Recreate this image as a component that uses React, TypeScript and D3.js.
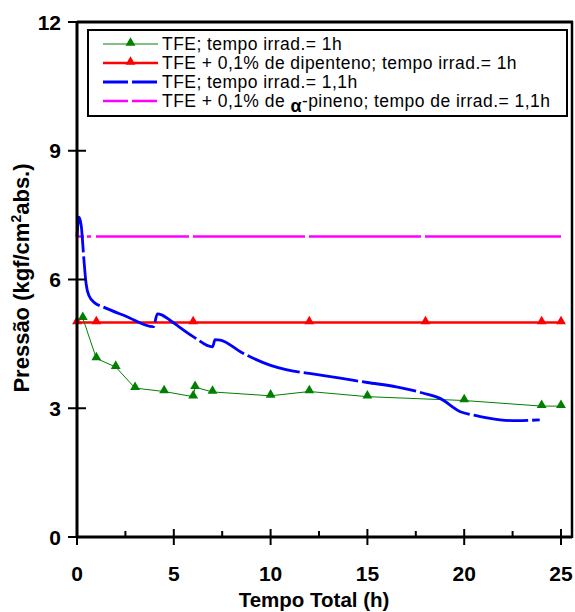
import React from "react";
import * as d3 from "d3";

const xTicks = [0, 5, 10, 15, 20, 25];
const xMinorTicks = [2.5, 7.5, 12.5, 17.5, 22.5];
const yTicks = [0, 3, 6, 9, 12];

const greenX = [0.3, 1, 2, 3, 4.5, 6, 6.1, 7, 10, 12, 15, 20, 24, 25];
const greenY = [5.1, 4.16, 3.96, 3.47, 3.39, 3.27, 3.49, 3.38, 3.29, 3.39, 3.27, 3.18, 3.05, 3.05];

const redX = [0, 1, 6, 12, 18, 24, 25];
const redY = [5, 5, 5, 5, 5, 5, 5];

const blueX = [0, 0.1, 0.22, 0.35, 0.47, 0.62, 0.93, 1.3, 2.5, 3.95, 4.15, 4.4, 4.8, 6, 7, 7.13, 7.4, 8.5, 10, 10.8, 12, 13.6, 15, 16.5, 17.9, 18.75, 19.8, 20.5, 21.85, 22.7, 23.9];
const blueY = [7.0, 7.45, 7.25, 6.5, 5.9, 5.62, 5.45, 5.37, 5.15, 4.9, 5.2, 5.17, 5.05, 4.67, 4.43, 4.6, 4.59, 4.3, 4.0, 3.9, 3.81, 3.7, 3.6, 3.5, 3.35, 3.23, 2.92, 2.84, 2.73, 2.71, 2.73];

const magentaX = [0, 25];
const magentaY = [7, 7];

const legendLabels = [
  "TFE; tempo irrad.= 1h",
  "TFE + 0,1% de dipenteno; tempo irrad.= 1h",
  "TFE; tempo irrad.= 1,1h",
];

const W = 575;
const H = 612;

export default function App() {
  const x = d3.scaleLinear().domain([0, 25]).range([77, 561]);
  const y = d3.scaleLinear().domain([0, 12]).range([537, 22]);
  const frameRight = 572;

  const pts = (xs: number[], ys: number[]) => xs.map((v, i) => [v, ys[i]] as [number, number]);
  const linear = d3.line<[number, number]>().x((d) => x(d[0])).y((d) => y(d[1]));
  const smooth = d3
    .line<[number, number]>()
    .x((d) => x(d[0]))
    .y((d) => y(d[1]))
    .curve(d3.curveMonotoneX);

  const tri = d3.symbol().type(d3.symbolTriangle).size(42)() as string;

  const green = pts(greenX, greenY);
  const red = pts(redX, redY);
  const blue = pts(blueX, blueY);
  const magenta = pts(magentaX, magentaY);

  const font = "'Liberation Sans', Arial, Helvetica, sans-serif";
  const legendRowY = [44, 63, 82, 101];
  const lx0 = 103;
  const lx1 = 158;
  const ltx = 162;
  const lfs = 17.5;
  const lls = 0.45;

  return (
    <svg
      width={W}
      height={H}
      style={{ position: "absolute", left: 0, top: 0, background: "#fff" }}
      fontFamily={font}
    >
      <rect x={0} y={0} width={W} height={H} fill="#fff" />

      {/* series */}
      <path d={linear(magenta) || ""} fill="none" stroke="#ff00ff" strokeWidth={2.5}
        strokeDasharray="7,3,4,5,93,4,112,4,112,4,140" />
      <path d={linear(red) || ""} fill="none" stroke="#ff0000" strokeWidth={2.5} />
      {red.map((d, i) => (
        <path key={"r" + i} d={tri} transform={`translate(${x(d[0])},${y(d[1]) - 1})`} fill="#ff0000" />
      ))}
      <path d={linear(green) || ""} fill="none" stroke="#008000" strokeWidth={1} />
      {green.map((d, i) => (
        <path key={"g" + i} d={tri} transform={`translate(${x(d[0])},${y(d[1]) - 1})`} fill="#008000" />
      ))}
      <path d={smooth(blue) || ""} fill="none" stroke="#0000ff" strokeWidth={2.8}
        strokeDasharray="55,4" />

      {/* frame */}
      <line x1={77} x2={77} y1={22} y2={538} stroke="#000" strokeWidth={3} />
      <line x1={76} x2={frameRight} y1={537} y2={537} stroke="#000" strokeWidth={3} />
      <line x1={77} x2={frameRight + 1} y1={22} y2={22} stroke="#000" strokeWidth={3} />
      <line x1={frameRight} x2={frameRight} y1={21} y2={538} stroke="#000" strokeWidth={2.5} />

      {/* y ticks */}
      {yTicks.map((t) => (
        <g key={"yt" + t}>
          <line x1={68} x2={86} y1={y(t)} y2={y(t)} stroke="#000" strokeWidth={2} />
          <text x={61} y={y(t) + 7.5} textAnchor="end" fontSize={21} fontWeight="bold">{t}</text>
        </g>
      ))}
      {/* x ticks */}
      {xTicks.map((t) => (
        <g key={"xt" + t}>
          <line x1={x(t)} x2={x(t)} y1={529} y2={545} stroke="#000" strokeWidth={2} />
          <text x={x(t)} y={581} textAnchor="middle" fontSize={21} fontWeight="bold">{t}</text>
        </g>
      ))}
      {xMinorTicks.map((t) => (
        <line key={"xm" + t} x1={x(t)} x2={x(t)} y1={531} y2={537} stroke="#000" strokeWidth={2} />
      ))}

      {/* axis titles */}
      <text x={314} y={607} textAnchor="middle" fontSize={20.5} fontWeight="bold">Tempo Total (h)</text>
      <text transform="translate(29,278) rotate(-90)" textAnchor="middle" fontSize={22} fontWeight="bold">
        Pressão (kgf/cm<tspan dy={-8} fontSize={14}>2</tspan><tspan dy={8}>abs.)</tspan>
      </text>

      {/* legend */}
      <rect x={88} y={30} width={479} height={86} fill="#fff" stroke="#000" strokeWidth={2} />
      <line x1={lx0} x2={lx1} y1={legendRowY[0]} y2={legendRowY[0]} stroke="#008000" strokeWidth={1} />
      <path d={tri} transform={`translate(${(lx0 + lx1) / 2},${legendRowY[0] - 1})`} fill="#008000" />
      <line x1={lx0} x2={lx1} y1={legendRowY[1]} y2={legendRowY[1]} stroke="#ff0000" strokeWidth={2.5} />
      <path d={tri} transform={`translate(${(lx0 + lx1) / 2},${legendRowY[1] - 1})`} fill="#ff0000" />
      <line x1={lx0} x2={lx1} y1={legendRowY[2]} y2={legendRowY[2]} stroke="#0000ff" strokeWidth={2.8}
        strokeDasharray="25,4" />
      <line x1={lx0} x2={lx1} y1={legendRowY[3]} y2={legendRowY[3]} stroke="#ff00ff" strokeWidth={2.5}
        strokeDasharray="25,4" />
      {legendLabels.map((l, i) => (
        <text key={"lg" + i} x={ltx} y={legendRowY[i] + 6} fontSize={lfs} letterSpacing={lls}>{l}</text>
      ))}
      <text x={ltx} y={legendRowY[3] + 6} fontSize={lfs} letterSpacing={lls}>
        TFE + 0,1% de <tspan dy={5} fontWeight="bold" fontSize={18}>α</tspan>
        <tspan dy={-5}>-pineno; tempo de irrad.= 1,1h</tspan>
      </text>
    </svg>
  );
}
